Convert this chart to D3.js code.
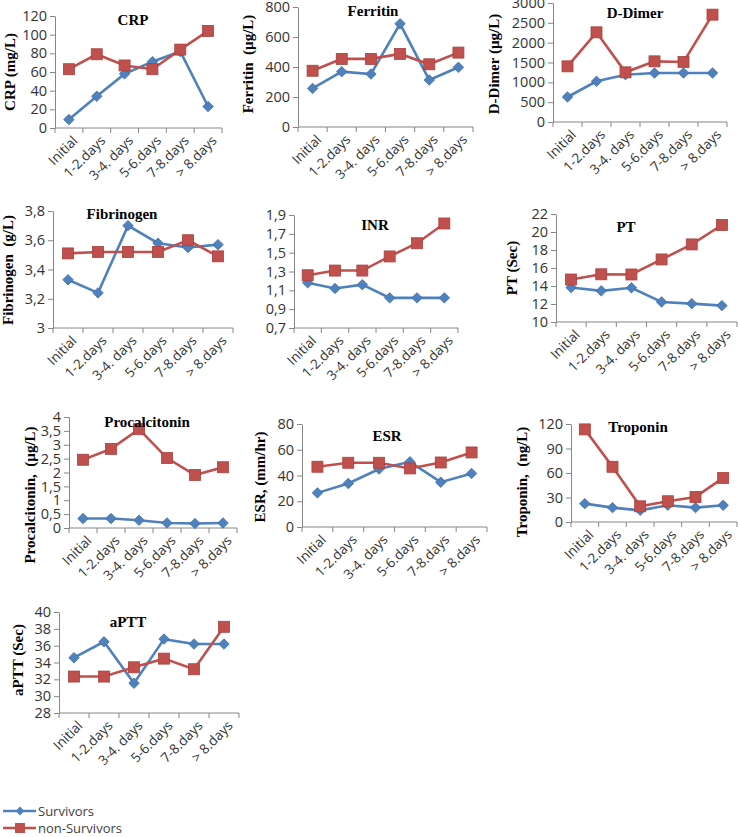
<!DOCTYPE html>
<html>
<head>
<meta charset="utf-8">
<script src="https://cdn.jsdelivr.net/npm/d3@7"></script>
<style>
  body { margin: 0; background: #fff; }
  svg { display: block; }
</style>
</head>
<body>
<svg id="chart" width="738" height="837"></svg>
<script>
// categories shared by every panel
const categories = ["Initial", "1-2.days", "3-4. days", "5-6.days", "7-8.days", "> 8.days"];
const seriesNames = ["Survivors", "non-Survivors"];

// values (survivors / non-survivors)
const crpS = [9, 34, 58, 71, 82, 23];
const crpN = [63, 79, 67, 63, 84, 104];
const ferritinS = [257, 369, 353, 688, 313, 398];
const ferritinN = [375, 454, 454, 487, 418, 496];
const dDimerS = [630, 1025, 1193, 1235, 1235, 1235];
const dDimerN = [1403, 2260, 1252, 1529, 1513, 2706];
const fibrinogenS = [3.33, 3.24, 3.7, 3.58, 3.55, 3.57];
const fibrinogenN = [3.51, 3.52, 3.52, 3.52, 3.6, 3.49];
const inrS = [1.18, 1.12, 1.16, 1.02, 1.02, 1.02];
const inrN = [1.26, 1.31, 1.31, 1.46, 1.6, 1.81];
const ptS = [13.83, 13.46, 13.8, 12.23, 12.04, 11.82];
const ptN = [14.72, 15.3, 15.28, 16.95, 18.62, 20.78];
const pctS = [0.34, 0.34, 0.28, 0.18, 0.16, 0.18];
const pctN = [2.46, 2.85, 3.56, 2.52, 1.91, 2.19];
const esrS = [26.5, 33.8, 45, 50.6, 34.8, 41.6];
const esrN = [46.8, 49.9, 49.9, 45.5, 50.1, 57.9];
const troponinS = [22.5, 17.6, 14.3, 20.5, 17.6, 20.5];
const troponinN = [113.4, 67.6, 19.2, 25.4, 30.7, 54];
const apttS = [34.57, 36.46, 31.54, 36.78, 36.19, 36.19];
const apttN = [32.33, 32.33, 33.43, 34.46, 33.2, 38.24];

// titles, y labels and axis ranges
const titles = ["CRP", "Ferritin", "D-Dimer", "Fibrinogen", "INR", "PT", "Procalcitonin", "ESR", "Troponin", "aPTT"];
const yLabels = ["CRP (mg/L)", "Ferritin  (\u00b5g/L)", "D-Dimer (\u00b5g/L)", "Fibrinogen  (g/L)", "",
  "PT (Sec)", "Procalcitonin,  (\u00b5g/L)", "ESR, (mm/hr)", "Troponin,  (ng/L)", "aPTT (Sec)"];
const yDomains = [[0, 120], [0, 800], [0, 3000], [3, 3.8], [0.7, 1.9], [10, 22], [0, 4], [0, 80], [0, 120], [28, 40]];
const yTickSteps = [20, 200, 500, 0.2, 0.2, 2, 0.5, 20, 30, 2];
const survivorSeries = [crpS, ferritinS, dDimerS, fibrinogenS, inrS, ptS, pctS, esrS, troponinS, apttS];
const nonSurvivorSeries = [crpN, ferritinN, dDimerN, fibrinogenN, inrN, ptN, pctN, esrN, troponinN, apttN];

// layout only: plot box [x0, x1, yTop, yBottom], title pos, y label pos
const layout = [
  { box: [55, 222, 16, 128], title: [133, 20], ylab: [10, 72] },
  { box: [298, 473, 7, 127], title: [373, 11], ylab: [248, 64] },
  { box: [553, 727, 3, 122], title: [635, 13], ylab: [494, 64] },
  { box: [53, 233, 211, 328], title: [122, 214], ylab: [8, 270] },
  { box: [294, 458, 215, 328], title: [375, 225], ylab: [0, 0] },
  { box: [556, 737, 214, 322], title: [626, 227], ylab: [512, 268] },
  { box: [69, 237, 417, 528], title: [147, 422], ylab: [30, 495] },
  { box: [302, 487, 424, 527], title: [387, 436], ylab: [260, 477] },
  { box: [571, 737, 424, 522], title: [638, 427], ylab: [522, 482] },
  { box: [59, 239, 612, 713], title: [128, 622], ylab: [18, 660] },
];

const blue = "#4f81bd";
const red = "#c0504d";
const axisColor = "#868686";
const tickFont = "'Open Sans', 'Liberation Sans', sans-serif";
const serifFont = "'Liberation Serif', 'DejaVu Serif', serif";

const svg = d3.select("#chart");

/**
 * Formats ticks with a decimal comma, like the original
 * @param {*} d
 */
function commaFormat(d) {
  return String(+d.toFixed(2)).replace(".", ",");
}

/**
 * Draws one small line chart
 * @param {*} i: panel index
 */
function drawPanel(i) {
  const [x0, x1, yTop, yBottom] = layout[i].box;
  const g = svg.append("g");

  const x = d3.scaleBand().domain(categories).range([x0, x1]);
  const dom = yDomains[i];
  const y = d3.scaleLinear().domain(dom).range([yBottom, yTop]);
  const step = yTickSteps[i];
  const tickVals = d3.range(dom[0], dom[1] + step / 2, step).map((v) => +v.toFixed(2));

  // y axis
  const yAxis = g
    .append("g")
    .attr("transform", "translate(" + x0 + ",0)")
    .call(d3.axisLeft(y).tickValues(tickVals).tickFormat(commaFormat).tickSize(5).tickSizeOuter(0));
  yAxis.select(".domain").attr("stroke", axisColor);
  yAxis.selectAll(".tick line").attr("stroke", axisColor);
  yAxis
    .selectAll(".tick text")
    .attr("x", -8)
    .style("font-family", tickFont)
    .style("font-size", "14.5px")
    .style("fill", "#333");

  // x axis with ticks at category boundaries
  const xAxis = g.append("g").attr("transform", "translate(0," + yBottom + ")");
  xAxis
    .append("line")
    .attr("x1", x0)
    .attr("x2", x1)
    .attr("stroke", axisColor);
  const bounds = categories.map((c) => x(c)).concat([x1]);
  xAxis
    .selectAll("line.xt")
    .data(bounds)
    .join("line")
    .attr("class", "xt")
    .attr("x1", (d) => d)
    .attr("x2", (d) => d)
    .attr("y1", 0)
    .attr("y2", 5)
    .attr("stroke", axisColor);
  xAxis
    .selectAll("text")
    .data(categories)
    .join("text")
    .attr("transform", (d) => "translate(" + (x(d) + x.bandwidth() / 2 + 6) + ",10) rotate(-45)")
    .attr("text-anchor", "end")
    .attr("dominant-baseline", "central")
    .style("font-family", tickFont)
    .style("font-size", "13.5px")
    .style("fill", "#333")
    .text((d) => d);

  const cx = (d, k) => x(categories[k]) + x.bandwidth() / 2;
  const line = d3
    .line()
    .x(cx)
    .y((d) => y(d));

  // survivors: blue line with diamonds
  g.append("path")
    .datum(survivorSeries[i])
    .attr("d", line)
    .attr("fill", "none")
    .attr("stroke", blue)
    .attr("stroke-width", 2.6);
  g.selectAll("path.dia")
    .data(survivorSeries[i])
    .join("path")
    .attr("class", "dia")
    .attr("d", d3.symbol(d3.symbolDiamond2, 70))
    .attr("transform", (d, k) => "translate(" + cx(d, k) + "," + y(d) + ")")
    .attr("fill", blue)
    .attr("stroke", "#3f6fa8")
    .attr("stroke-width", 0.8);

  // non-survivors: red line with squares
  g.append("path")
    .datum(nonSurvivorSeries[i])
    .attr("d", line)
    .attr("fill", "none")
    .attr("stroke", red)
    .attr("stroke-width", 2.6);
  g.selectAll("rect.sq")
    .data(nonSurvivorSeries[i])
    .join("rect")
    .attr("class", "sq")
    .attr("x", (d, k) => cx(d, k) - 5.5)
    .attr("y", (d) => y(d) - 5.5)
    .attr("width", 11)
    .attr("height", 11)
    .attr("fill", red)
    .attr("stroke", "#a8403d")
    .attr("stroke-width", 0.8);

  // title
  g.append("text")
    .attr("x", layout[i].title[0])
    .attr("y", layout[i].title[1])
    .attr("text-anchor", "middle")
    .attr("dominant-baseline", "central")
    .style("font-family", serifFont)
    .style("font-weight", "bold")
    .style("font-size", "15px")
    .text(titles[i]);

  // y label
  if (yLabels[i] != "") {
    g.append("text")
      .attr("transform", "translate(" + layout[i].ylab[0] + "," + layout[i].ylab[1] + ") rotate(-90)")
      .attr("text-anchor", "middle")
      .attr("dominant-baseline", "central")
      .style("font-family", serifFont)
      .style("font-weight", "bold")
      .style("font-size", "15px")
      .style("white-space", "pre")
      .text(yLabels[i]);
  }
}

titles.forEach((t, i) => drawPanel(i));

// legend
const legend = svg.append("g");
const legendColors = [blue, red];
seriesNames.forEach((name, k) => {
  const ly = 811 + k * 17;
  legend
    .append("line")
    .attr("x1", 3)
    .attr("x2", 36)
    .attr("y1", ly)
    .attr("y2", ly)
    .attr("stroke", legendColors[k])
    .attr("stroke-width", 2.6);
  if (k == 0) {
    legend
      .append("path")
      .attr("d", d3.symbol(d3.symbolDiamond2, 50))
      .attr("transform", "translate(20," + ly + ")")
      .attr("fill", blue);
  } else {
    legend
      .append("rect")
      .attr("x", 15)
      .attr("y", ly - 5)
      .attr("width", 10)
      .attr("height", 10)
      .attr("fill", red);
  }
  legend
    .append("text")
    .attr("x", 38)
    .attr("y", ly)
    .attr("dominant-baseline", "central")
    .style("font-family", tickFont)
    .style("font-size", "13px")
    .style("fill", "#404040")
    .text(name);
});
</script>
</body>
</html>
